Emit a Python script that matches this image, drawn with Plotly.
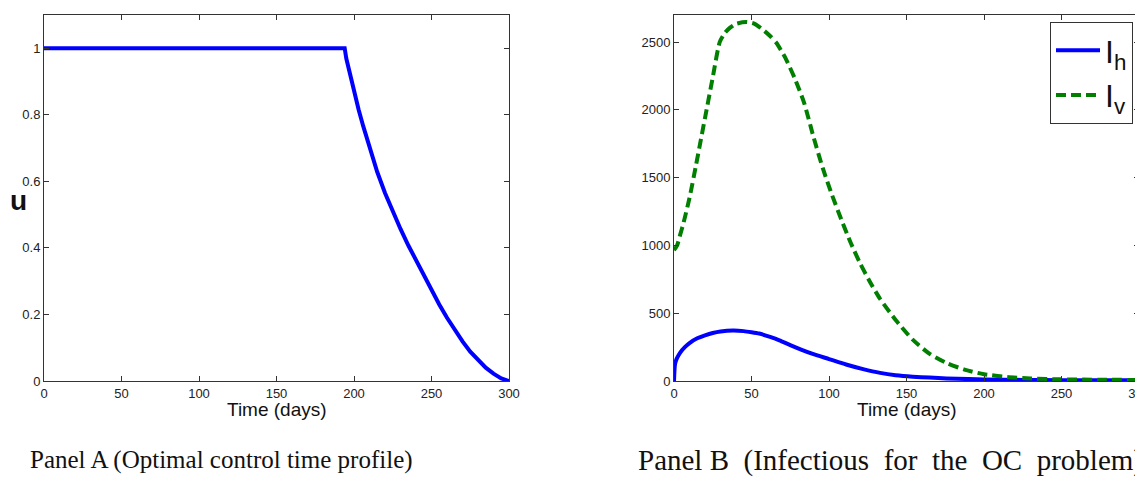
import plotly.graph_objects as go

# ---- Panel A: optimal control u(t) ----
t_u = [0, 194, 195, 197, 200, 203, 206, 210, 215, 220, 225, 230, 235, 240, 245, 250,
       255, 260, 265, 270, 275, 280, 285, 290, 295, 300]
u_vals = [1, 1, 0.97, 0.93, 0.87, 0.815, 0.765, 0.70, 0.628, 0.565, 0.508, 0.457, 0.408, 0.362, 0.316, 0.272,
          0.23, 0.19, 0.153, 0.119, 0.088, 0.062, 0.04, 0.022, 0.008, 0.0]

# ---- Panel B: infectious hosts (I_h) and vectors (I_v) ----
t_h = [0, 0.5, 1, 2, 4, 7, 10, 15, 20, 25, 30, 38, 45, 50, 55, 62, 68, 75, 82, 90,
       100, 111, 122, 133, 143, 154, 165, 176, 190, 200, 225, 250, 275, 300]
i_h = [0, 110, 140, 170, 210, 250, 280, 315, 337, 354, 365, 372, 368, 360, 350, 325, 300, 265, 232, 198,
       162, 122, 88, 60, 43, 32, 25, 19, 14, 11, 8, 6, 5, 5]

t_v = [0, 2, 4, 6, 10, 14, 17, 21, 25, 29.5, 33, 36, 40, 47, 52, 57, 62, 66, 72, 78, 84, 90,
       96, 102, 108, 114, 120, 126, 133, 143, 154, 165, 176, 188, 200, 215, 230, 250, 275, 300]
i_v = [965, 1000, 1080, 1160, 1350, 1580, 1760, 2000, 2240, 2500, 2570, 2605, 2635, 2648, 2635, 2595, 2545, 2495, 2380, 2230, 2050, 1800,
       1570, 1370, 1190, 1020, 870, 740, 605, 450, 305, 200, 132, 82, 50, 30, 19, 12, 9, 8]

x_ticks = [0, 50, 100, 150, 200, 250, 300]
u_ticks = [0, 0.2, 0.4, 0.6, 0.8, 1]
b_ticks = [0, 500, 1000, 1500, 2000, 2500]

caption_a = "Panel A (Optimal control time profile)"
caption_b_head = "Panel B"
caption_b_words = ["(Infectious", "for", "the", "OC", "problem)"]

# page body has an 8px margin: figure occupies window pixels 8..1143 x 8..480
OFF = 8
W, H = 1143 - OFF, 480 - OFF


def px(x):
    return (x - OFF) / W


def py(y):
    return 1 - (y - OFF) / H


BLUE = "#0000ff"
GREEN = "#007f00"
AXC = "#333333"
SANS = "Arial, Liberation Sans"
SERIF = "Liberation Serif, Times New Roman"

fig = go.Figure()
fig.add_trace(go.Scatter(x=t_u, y=u_vals, mode="lines", line=dict(color=BLUE, width=4),
                         xaxis="x", yaxis="y", showlegend=False))
fig.add_trace(go.Scatter(x=t_h, y=i_h, mode="lines",
                         line=dict(color=BLUE, width=4, shape="spline", smoothing=0.6),
                         name="I<sub>h</sub>", xaxis="x2", yaxis="y2"))
fig.add_trace(go.Scatter(x=t_v, y=i_v, mode="lines",
                         line=dict(color=GREEN, width=4, dash="10px,5px", shape="spline", smoothing=0.6),
                         name="I<sub>v</sub>", xaxis="x2", yaxis="y2"))

ydom = [py(381), py(15)]
common = dict(showline=True, linecolor=AXC, linewidth=1, mirror="ticks", ticks="inside",
              ticklen=5, tickcolor=AXC, showgrid=False, zeroline=False, automargin=False,
              ticklabeloverflow="allow",
              tickfont=dict(family=SANS, size=13, color="#222"))

fig.update_layout(
    width=W, height=H,
    margin=dict(l=0, r=0, t=0, b=0),
    paper_bgcolor="white", plot_bgcolor="white",
    xaxis=dict(domain=[px(44), px(509)], range=[0, 300], tickvals=x_ticks, anchor="y", **common),
    yaxis=dict(domain=ydom, range=[0, 1.1], tickvals=u_ticks, anchor="x", **common),
    xaxis2=dict(domain=[px(674), px(1139)], range=[0, 300], tickvals=x_ticks, anchor="y2", **common),
    yaxis2=dict(domain=ydom, range=[0, 2700], tickvals=b_ticks, tickformat="d", anchor="x2", **common),
    legend=dict(x=px(1050), y=py(22), xanchor="left", yanchor="top",
                bgcolor="white", bordercolor=AXC, borderwidth=1,
                font=dict(family=SANS, size=32, color="#111"),
                itemwidth=44),
    showlegend=True,
)

# slightly stretched word spacing for the Panel B caption (it runs off the right edge)
gap = " \u00a0"
caption_b = caption_b_head + gap + gap.join(caption_b_words)

ann = [
    dict(text="<b>u</b>", x=px(18), y=py(200), font=dict(family=SANS, size=28, color="#111")),
    dict(text="Time (days)", x=px(276.5), y=py(409), font=dict(family=SANS, size=19, color="#111")),
    dict(text="Time (days)", x=px(906.5), y=py(409), font=dict(family=SANS, size=19, color="#111")),
    dict(text=caption_a, x=px(28), y=py(460), xanchor="left",
         font=dict(family=SERIF, size=25, color="#111")),
    dict(text=caption_b, x=px(636), y=py(460), xanchor="left",
         font=dict(family=SERIF, size=29, color="#111")),
]
for a in ann:
    a.setdefault("xanchor", "center")
    fig.add_annotation(xref="paper", yref="paper", showarrow=False, yanchor="middle", **a)

fig.write_html("out.html")
